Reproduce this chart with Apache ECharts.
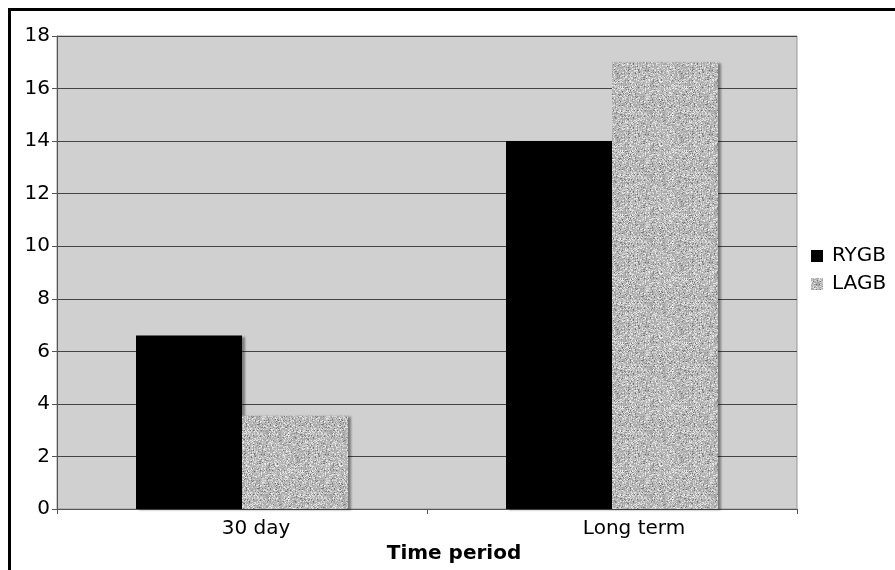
<!DOCTYPE html>
<html>
<head>
<meta charset="utf-8">
<script src="https://cdn.jsdelivr.net/npm/echarts@6/dist/echarts.min.js"></script>
<style>
html,body{margin:0;padding:0;background:#fff;}
#chart{width:895px;height:570px;}
</style>
</head>
<body>
<div id="chart"></div>
<script>
var categories = ['30 day', 'Long term'];
var seriesNames = ['RYGB', 'LAGB'];
var rygbValues = [6.6, 14];
var lagbValues = [3.55, 17];
var yTicks = { min: 0, max: 18, interval: 2 };
var xAxisTitle = 'Time period';

// speckled texture for LAGB bars (deterministic noise)
function makeNoise() {
  var c = document.createElement('canvas');
  c.width = 64; c.height = 64;
  var ctx = c.getContext('2d');
  var img = ctx.createImageData(64, 64);
  var s = 12345;
  function rnd() { s = (s * 1103515245 + 12345) & 0x7fffffff; return s / 0x7fffffff; }
  for (var i = 0; i < 64 * 64; i++) {
    var r = rnd();
    var v;
    if (r < 0.07) v = 105 + rnd() * 40;
    else if (r < 0.3) v = 205 + rnd() * 35;
    else v = 160 + rnd() * 40;
    img.data[i * 4] = v; img.data[i * 4 + 1] = v; img.data[i * 4 + 2] = v; img.data[i * 4 + 3] = 255;
  }
  ctx.putImageData(img, 0, 0);
  return c;
}
var noise = makeNoise();

var font = 'DejaVu Sans, Verdana, sans-serif';
var chart = echarts.init(document.getElementById('chart'));
var shadow = { shadowColor: 'rgba(0,0,0,0.4)', shadowBlur: 2, shadowOffsetX: 3, shadowOffsetY: 1 };

chart.setOption({
  animation: false,
  backgroundColor: '#fff',
  graphic: [{
    type: 'rect', z: 100,
    shape: { x: 9.5, y: 9.5, width: 1200, height: 1200 },
    style: { fill: 'none', stroke: '#000', lineWidth: 3 }
  }],
  grid: { left: 57, right: 98, top: 36, bottom: 61, show: true, backgroundColor: '#d0d0d0', borderColor: '#999', borderWidth: 1 },
  legend: {
    orient: 'vertical', left: 806, top: 241,
    itemWidth: 12, itemHeight: 12, itemGap: 8, icon: 'rect',
    textStyle: { fontFamily: font, fontSize: 20, color: '#000', padding: [0, 0, 0, 4] },
    data: seriesNames
  },
  xAxis: {
    type: 'category', data: categories,
    axisLine: { lineStyle: { color: '#555', width: 1 } },
    axisTick: { show: true, length: 5, lineStyle: { color: '#555' } },
    axisLabel: {
      margin: 10, color: '#000', fontFamily: font, fontSize: 20,
      formatter: function (v, i) { return '{a' + i + '|' + v + '}'; },
      rich: {
        a0: { fontFamily: font, fontSize: 20, color: '#000', padding: [0, 0, 0, 28] },
        a1: { fontFamily: font, fontSize: 20, color: '#000', padding: [0, 0, 0, 44] }
      }
    },
    name: xAxisTitle, nameLocation: 'middle', nameGap: 33,
    nameTextStyle: { fontFamily: font, fontSize: 20, fontWeight: 'bold', color: '#000', padding: [0, 0, 0, 54] }
  },
  yAxis: {
    type: 'value', min: yTicks.min, max: yTicks.max, interval: yTicks.interval,
    axisLine: { show: true, lineStyle: { color: '#555', width: 1 } },
    axisTick: { show: true, length: 5, lineStyle: { color: '#555' } },
    axisLabel: { margin: 7, color: '#000', fontFamily: font, fontSize: 20 },
    splitLine: { show: true, lineStyle: { color: '#444', width: 1 } }
  },
  series: [
    { name: seriesNames[0], type: 'bar', data: rygbValues, barWidth: 106, barGap: '0%',
      itemStyle: Object.assign({ color: '#000' }, shadow) },
    { name: seriesNames[1], type: 'bar', data: lagbValues, barWidth: 106, barGap: '0%',
      itemStyle: Object.assign({ color: { image: noise, repeat: 'repeat' } }, shadow) }
  ]
});
</script>
</body>
</html>
